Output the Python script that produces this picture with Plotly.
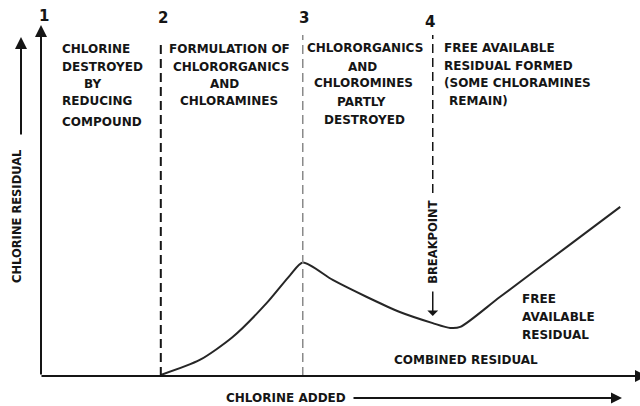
import plotly.graph_objects as go

# ---- data (arbitrary units: chlorine added vs chlorine residual) ----
dose = [20.0, 26.5, 32.0, 37.7, 41.6, 43.7, 48.7, 54.4, 59.9, 65.4, 68.3, 70.0, 76.6, 87.8, 96.7]
residual = [0.3, 4.6, 11.2, 21.0, 29.0, 32.6, 27.6, 22.7, 18.4, 15.2, 13.8, 14.1, 22.7, 37.1, 48.6]

# zone boundaries 2, 3 and 4 along the chlorine-added axis
boundary_x = [20.0, 43.7, 65.4]
zone_numbers = ["1", "2", "3", "4"]
breakpoint_x = 65.4

# ---- page geometry ----
W, H = 640, 406
LEFT, RIGHT, TOP, BOTTOM = 41, 640, 28, 376          # axis frame in pixels
XS = (RIGHT - LEFT) / 100.0                           # px per x unit
YS = (BOTTOM - TOP) / 100.0                           # px per y unit


def px(x):
    return x / W


def py(y):
    return 1 - y / H


def dx(xp):
    return (xp - LEFT) / XS


def dy(yp):
    return (BOTTOM - yp) / YS


FONT = dict(family="DejaVu Sans", size=12, color="#151515", weight="bold")
INK = "#151515"

fig = go.Figure()
fig.add_trace(go.Scatter(
    x=dose, y=residual, mode="lines",
    line=dict(color="#262626", width=2, shape="spline", smoothing=0.7),
    hoverinfo="skip", showlegend=False,
))

shapes = [
    # boundary 2 (start of combined residual)
    dict(type="line", xref="x", yref="y", x0=boundary_x[0], x1=boundary_x[0],
         y0=0, y1=dy(40), line=dict(color=INK, width=2, dash="9px,5px")),
    # boundary 3 (peak)
    dict(type="line", xref="x", yref="y", x0=boundary_x[1], x1=boundary_x[1],
         y0=0, y1=dy(35), line=dict(color="#8a8a8a", width=1.5, dash="9px,5px")),
    # boundary 4 (breakpoint), stops above the label
    dict(type="line", xref="x", yref="y", x0=boundary_x[2], x1=boundary_x[2],
         y0=dy(193), y1=dy(35), line=dict(color=INK, width=1.5, dash="9px,5px")),
]

annotations = []


def arrow(x_tip, y_tip, x_tail, y_tail, width=2, size=1.2, head=2):
    annotations.append(dict(
        x=x_tip, y=y_tip, ax=x_tail, ay=y_tail, xref="x", yref="y",
        axref="x", ayref="y", text="", showarrow=True, arrowhead=head,
        arrowsize=size, arrowwidth=width, arrowcolor=INK, standoff=0,
    ))


# axes drawn as arrows
arrow(0, dy(25), 0, 0)                       # chlorine residual axis
arrow(dx(21), dy(37), dx(21), dy(136))       # short arrow beside it
arrow(dx(647), 0, dx(40), 0)                 # chlorine added axis
arrow(dx(622), dy(398), dx(352), dy(398), width=2, size=1.1)  # arrow after axis title
arrow(breakpoint_x, dy(316), breakpoint_x, dy(290), width=1.5, size=1.2, head=1)

# zone numbers above the boundaries
num_x = [0] + boundary_x
num_y = [16, 18, 18, 22]
num_dx = [3, 2, 1, -3]
for n, xv, yv, sh in zip(zone_numbers, num_x, num_y, num_dx):
    annotations.append(dict(
        x=xv, y=py(yv), xref="x", yref="paper", text=n, showarrow=False,
        xshift=sh, xanchor="center", yanchor="middle",
        font=dict(family="DejaVu Sans", size=15, color=INK, weight="bold"),
    ))

# zone descriptions, one line at a time
labels = [
    ("CHLORINE", 60, 49, "left"),
    ("DESTROYED", 60, 67, "left"),
    ("BY", 82, 84, "left"),
    ("REDUCING", 60, 101, "left"),
    ("COMPOUND", 60, 122, "left"),
    ("FORMULATION OF", 229, 49, "center"),
    ("CHLORORGANICS", 231, 67, "center"),
    ("AND", 224, 84, "center"),
    ("CHLORAMINES", 229, 101, "center"),
    ("CHLORORGANICS", 365, 48, "center"),
    ("AND", 362, 67, "center"),
    ("CHLOROMINES", 363, 83, "center"),
    ("PARTLY", 361, 102, "center"),
    ("DESTROYED", 364, 120, "center"),
    ("FREE AVAILABLE", 442, 48, "left"),
    ("RESIDUAL FORMED", 442, 66, "left"),
    ("(SOME CHLORAMINES", 442, 83, "left"),
    ("REMAIN)", 447, 101, "left"),
    ("FREE", 520, 299, "left"),
    ("AVAILABLE", 520, 317, "left"),
    ("RESIDUAL", 520, 335, "left"),
    ("COMBINED RESIDUAL", 466, 360, "center"),
    ("CHLORINE ADDED", 286, 398, "center"),
]
for text, xp, yp, anchor in labels:
    annotations.append(dict(
        x=px(xp), y=py(yp), xref="paper", yref="paper", text=text,
        showarrow=False, xanchor=anchor, yanchor="middle", font=FONT,
    ))

# rotated labels
annotations.append(dict(
    x=px(17), y=py(216), xref="paper", yref="paper", text="CHLORINE RESIDUAL",
    showarrow=False, textangle=-90, xanchor="center", yanchor="middle",
    font=dict(family="DejaVu Sans", size=11.5, color=INK, weight="bold"),
))
annotations.append(dict(
    x=breakpoint_x, y=py(242), xref="x", yref="paper", text="BREAKPOINT",
    showarrow=False, textangle=-90, xanchor="center", yanchor="middle",
    font=dict(family="DejaVu Sans", size=11.5, color=INK, weight="bold"),
))

fig.update_layout(
    width=W, height=H, margin=dict(l=0, r=0, t=0, b=0),
    paper_bgcolor="white", plot_bgcolor="white", showlegend=False,
    xaxis=dict(range=[-LEFT / XS, 100], visible=False, fixedrange=True),
    yaxis=dict(range=[-(H - BOTTOM) / YS, 100 + TOP / YS], visible=False, fixedrange=True),
    shapes=shapes, annotations=annotations,
)

fig.write_html("out.html")
